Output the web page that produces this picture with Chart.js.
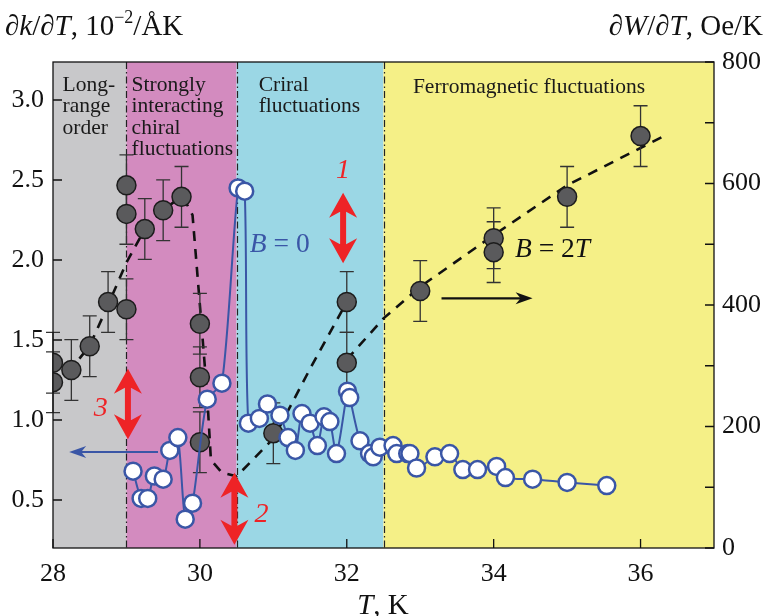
<!DOCTYPE html>
<html>
<head>
<meta charset="utf-8">
<script src="https://cdn.jsdelivr.net/npm/chart.js@4.4.1/dist/chart.umd.min.js"></script>
<style>
  html, body { margin: 0; padding: 0; background: #fff; }
</style>
</head>
<body>
<canvas id="myChart" width="766" height="616"></canvas>
<script>
// axis ticks
const xTicks = [28, 30, 32, 34, 36];
const leftTicks = [0.5, 1.0, 1.5, 2.0, 2.5, 3.0];
const rightTicks = [0, 200, 400, 600, 800];
const rightMinor = [100, 300, 500, 700];

// shaded temperature regions
const regionEdges = [28, 29, 30.5, 32.5, 37];
const regionColors = ['#c8c8ca', '#d38bbf', '#9bd7e5', '#f5f087'];
const regionNames = [
    ['Long-', 'range', 'order'],
    ['Strongly', 'interacting', 'chiral', 'fluctuations'],
    ['Criral', 'fluctuations'],
    ['Ferromagnetic fluctuations']
];

// B = 0, dk/dT (left axis)
const blueT = [29.09, 29.2, 29.29, 29.38, 29.5, 29.59, 29.7, 29.8, 29.9, 30.1, 30.3, 30.52, 30.61,
    30.66, 30.81, 30.92, 31.09, 31.2, 31.3, 31.39, 31.5, 31.6, 31.69, 31.77, 31.86, 32.01, 32.04,
    32.18, 32.31, 32.36, 32.45, 32.63, 32.68, 32.83, 32.86, 32.95, 33.2, 33.4, 33.58, 33.78,
    34.04, 34.16, 34.53, 35.0, 35.54];
const blueK = [0.68, 0.51, 0.51, 0.65, 0.63, 0.81, 0.89, 0.38, 0.48, 1.13, 1.23, 2.45, 2.43,
    0.98, 1.01, 1.1, 1.03, 0.89, 0.81, 1.04, 0.98, 0.84, 1.02, 0.99, 0.79, 1.18, 1.14,
    0.87, 0.79, 0.77, 0.83, 0.84, 0.79, 0.79, 0.79, 0.70, 0.77, 0.79, 0.69, 0.69,
    0.71, 0.64, 0.63, 0.61, 0.59];

// B = 2T, dW/dT (right axis)
const darkT = [28, 28, 28.25, 28.5, 28.75, 29, 29, 29, 29.25, 29.5, 29.75, 30, 30, 30, 31, 32, 32, 33, 34, 34, 35, 36];
const darkW = [305, 273, 293, 332, 405, 393, 550, 597, 525, 556, 578, 369, 281, 174, 189, 405, 305, 423, 510, 487, 578, 678];
const darkErr = [50, 50, 50, 50, 50, 50, 50, 50, 50, 50, 50, 50, 50, 50, 50, 50, 50, 50, 50, 50, 50, 50];

// dashed guide line (right axis), null breaks it in two
const guideT = [28, 28.25, 28.5, 28.75, 29, 29.25, 29.5, 29.76, 29.9, 30.0, 30.1, 30.15, 30.3, 30.5,
    31, 31.5, 32, 32, 32, 32.5, 33, 34, 35, 36.3];
const guideW = [272, 295, 333, 400, 470, 525, 556, 580, 548, 400, 250, 145, 124, 118,
    180, 295, 405, null, 310, 378, 430, 515, 597, 677];

// annotations
const redArrows = [
    { label: '1', x: 31.95, top: 2.42, bottom: 1.98, lx: 31.95, ly: 2.56 },
    { label: '2', x: 30.47, top: 0.67, bottom: 0.22, lx: 30.84, ly: 0.41 },
    { label: '3', x: 29.02, top: 1.32, bottom: 0.88, lx: 28.65, ly: 1.07 }
];

document.addEventListener('DOMContentLoaded', function () {
    const serif = '"Liberation Serif", "Times New Roman", serif';
    Chart.defaults.font.family = serif;
    Chart.defaults.color = '#111';

    function pts(xs, ys) {
        return xs.map((v, i) => ({ x: v, y: ys[i] }));
    }

    function richText(ctx, x, y, parts, align, size) {
        let w = 0;
        parts.forEach(p => {
            ctx.font = (p.it ? 'italic ' : '') + (p.sup ? size * 0.62 : size) + 'px ' + serif;
            p.w = ctx.measureText(p.t).width;
            w += p.w;
        });
        let cx = align === 'right' ? x - w : (align === 'center' ? x - w / 2 : x);
        ctx.textAlign = 'left';
        ctx.textBaseline = 'alphabetic';
        parts.forEach(p => {
            ctx.font = (p.it ? 'italic ' : '') + (p.sup ? size * 0.62 : size) + 'px ' + serif;
            ctx.fillText(p.t, cx, p.sup ? y - size * 0.42 : y);
            cx += p.w;
        });
    }

    function dblArrow(ctx, x, yTop, yBot) {
        const head = 25, hw = 14, sw = 3;
        ctx.fillStyle = '#ee2326';
        ctx.beginPath();
        ctx.moveTo(x, yTop);
        ctx.lineTo(x + hw, yTop + head);
        ctx.lineTo(x + sw, yTop + head - 6);
        ctx.lineTo(x + sw, yBot - head + 6);
        ctx.lineTo(x + hw, yBot - head);
        ctx.lineTo(x, yBot);
        ctx.lineTo(x - hw, yBot - head);
        ctx.lineTo(x - sw, yBot - head + 6);
        ctx.lineTo(x - sw, yTop + head - 6);
        ctx.lineTo(x - hw, yTop + head);
        ctx.closePath();
        ctx.fill();
    }

    function hArrow(ctx, x1, x2, y, color) {
        const dir = Math.sign(x2 - x1);
        ctx.strokeStyle = color;
        ctx.fillStyle = color;
        ctx.lineWidth = 2.2;
        ctx.beginPath();
        ctx.moveTo(x1, y);
        ctx.lineTo(x2 - dir * 8, y);
        ctx.stroke();
        ctx.beginPath();
        ctx.moveTo(x2, y);
        ctx.lineTo(x2 - dir * 17, y - 6);
        ctx.lineTo(x2 - dir * 12, y);
        ctx.lineTo(x2 - dir * 17, y + 6);
        ctx.closePath();
        ctx.fill();
    }

    const decor = {
        id: 'decor',
        beforeDatasetsDraw(chart) {
            const { ctx, chartArea: a, scales } = chart;
            const x = scales.x;
            ctx.save();
            for (let i = 0; i < regionColors.length; i++) {
                const x1 = x.getPixelForValue(regionEdges[i]);
                const x2 = x.getPixelForValue(regionEdges[i + 1]);
                ctx.fillStyle = regionColors[i];
                ctx.fillRect(x1, a.top, x2 - x1, a.bottom - a.top);
            }
            // dash-dot dividers
            ctx.strokeStyle = '#222';
            ctx.lineWidth = 1.2;
            ctx.setLineDash([7, 3, 1.5, 3]);
            for (let i = 1; i < regionEdges.length - 1; i++) {
                const px = Math.round(x.getPixelForValue(regionEdges[i])) + 0.5;
                ctx.beginPath();
                ctx.moveTo(px, a.top);
                ctx.lineTo(px, a.bottom);
                ctx.stroke();
            }
            ctx.setLineDash([]);
            // region names
            ctx.fillStyle = '#1a1a1a';
            ctx.textAlign = 'left';
            ctx.textBaseline = 'alphabetic';
            ctx.font = '21.5px ' + serif;
            const lx = [28.13, 29.07, 30.8, 32.9];
            regionNames.forEach((lines, i) => {
                lines.forEach((t, j) => {
                    ctx.fillText(t, x.getPixelForValue(lx[i]), a.top + (i === 3 ? 31 : 29) + j * 21.3);
                });
            });
            ctx.restore();
        },
        beforeDatasetDraw(chart, args) {
            if (args.index !== 1) return;
            const { ctx, scales } = chart;
            ctx.save();
            ctx.strokeStyle = '#333';
            ctx.lineWidth = 1.3;
            darkT.forEach((t, i) => {
                const px = scales.x.getPixelForValue(t);
                const y1 = scales.yR.getPixelForValue(darkW[i] + darkErr[i]);
                const y2 = scales.yR.getPixelForValue(darkW[i] - darkErr[i]);
                ctx.beginPath();
                ctx.moveTo(px, y1); ctx.lineTo(px, y2);
                ctx.moveTo(px - 7, y1); ctx.lineTo(px + 7, y1);
                ctx.moveTo(px - 7, y2); ctx.lineTo(px + 7, y2);
                ctx.stroke();
            });
            ctx.restore();
        },
        afterDatasetsDraw(chart) {
            const { ctx, chartArea: a, scales } = chart;
            const x = scales.x, yL = scales.yL, yR = scales.yR;
            ctx.save();
            // frame and inward ticks
            ctx.strokeStyle = '#111';
            ctx.lineWidth = 1.3;
            ctx.strokeRect(a.left, a.top, a.right - a.left, a.bottom - a.top);
            ctx.beginPath();
            leftTicks.forEach(v => {
                const py = yL.getPixelForValue(v);
                ctx.moveTo(a.left, py); ctx.lineTo(a.left + 9, py);
            });
            rightTicks.concat(rightMinor).forEach(v => {
                const py = yR.getPixelForValue(v);
                ctx.moveTo(a.right, py); ctx.lineTo(a.right - 9, py);
            });
            xTicks.forEach(v => {
                const px = x.getPixelForValue(v);
                ctx.moveTo(px, a.bottom); ctx.lineTo(px, a.bottom - 9);
            });
            ctx.stroke();

            // red double arrows with numbers
            redArrows.forEach(r => {
                dblArrow(ctx, x.getPixelForValue(r.x), yL.getPixelForValue(r.top), yL.getPixelForValue(r.bottom));
                ctx.fillStyle = '#ee2326';
                ctx.font = 'italic 28px ' + serif;
                ctx.textAlign = 'center';
                ctx.textBaseline = 'middle';
                ctx.fillText(r.label, x.getPixelForValue(r.lx), yL.getPixelForValue(r.ly));
            });

            // axis pointers
            hArrow(ctx, x.getPixelForValue(29.43), x.getPixelForValue(28.22), yL.getPixelForValue(0.8), '#3a56a6');
            hArrow(ctx, x.getPixelForValue(33.29), x.getPixelForValue(34.53), yR.getPixelForValue(411), '#111');

            // series labels
            ctx.fillStyle = '#3a56a6';
            richText(ctx, x.getPixelForValue(30.68), yL.getPixelForValue(2.05),
                [{ t: 'B', it: true }, { t: ' = 0', it: false }], 'left', 27.5);
            ctx.fillStyle = '#111';
            richText(ctx, x.getPixelForValue(34.29), yL.getPixelForValue(2.02),
                [{ t: 'B', it: true }, { t: ' = 2', it: false }, { t: 'T', it: true }], 'left', 27.5);
            ctx.restore();
        },
        afterDraw(chart) {
            const ctx = chart.ctx;
            ctx.save();
            ctx.fillStyle = '#111';
            richText(ctx, 5, 35, [
                { t: '\u2202' }, { t: 'k', it: true }, { t: '/\u2202' }, { t: 'T', it: true },
                { t: ', 10' }, { t: '\u22122', sup: true }, { t: '/\u00c5K' }
            ], 'left', 29);
            richText(ctx, 763, 35, [
                { t: '\u2202' }, { t: 'W', it: true }, { t: '/\u2202' }, { t: 'T', it: true },
                { t: ', Oe/K' }
            ], 'right', 29);
            richText(ctx, 383, 614, [{ t: 'T', it: true }, { t: ', K' }], 'center', 29);
            ctx.restore();
        }
    };

    const ctx = document.getElementById('myChart').getContext('2d');
    const myChart = new Chart(ctx, {
        type: 'scatter',
        data: {
            datasets: [{
                label: 'B = 0',
                data: pts(blueT, blueK),
                yAxisID: 'yL',
                showLine: true,
                tension: 0.25,
                borderColor: '#3a56a6',
                borderWidth: 2,
                pointRadius: 8.5,
                pointBorderWidth: 2.5,
                pointBackgroundColor: '#ffffff',
                pointBorderColor: '#3a56a6',
                clip: 0,
                order: 0
            }, {
                label: 'B = 2T',
                data: pts(darkT, darkW),
                yAxisID: 'yR',
                showLine: false,
                pointRadius: 9.5,
                pointBorderWidth: 1.5,
                pointBackgroundColor: '#5a5a5c',
                pointBorderColor: '#1c1c1c',
                clip: 0,
                order: 1
            }, {
                label: 'guide',
                data: pts(guideT, guideW),
                yAxisID: 'yR',
                showLine: true,
                spanGaps: false,
                borderColor: '#111',
                borderWidth: 2.6,
                borderDash: [10, 8],
                pointRadius: 0,
                tension: 0,
                clip: 0,
                order: 2
            }]
        },
        options: {
            responsive: false,
            animation: false,
            events: [],
            layout: { padding: { top: 62, left: 0, right: 0, bottom: 0 } },
            plugins: { legend: { display: false }, tooltip: { enabled: false } },
            scales: {
                x: {
                    type: 'linear',
                    min: 28,
                    max: 37,
                    grid: { display: false, drawTicks: false },
                    border: { display: false },
                    afterBuildTicks: s => { s.ticks = xTicks.map(v => ({ value: v })); },
                    afterFit: s => { s.height = 68; },
                    ticks: { font: { size: 26 }, color: '#111', padding: 11, maxRotation: 0 }
                },
                yL: {
                    type: 'linear',
                    position: 'left',
                    min: 0.2,
                    max: 3.2375,
                    grid: { display: false, drawTicks: false },
                    border: { display: false },
                    afterBuildTicks: s => { s.ticks = leftTicks.map(v => ({ value: v })); },
                    afterFit: s => { s.width = 53; },
                    ticks: { font: { size: 26 }, color: '#111', padding: 9, callback: v => v.toFixed(1) }
                },
                yR: {
                    type: 'linear',
                    position: 'right',
                    min: 0,
                    max: 800,
                    grid: { display: false, drawTicks: false },
                    border: { display: false },
                    afterBuildTicks: s => { s.ticks = rightTicks.map(v => ({ value: v })); },
                    afterFit: s => { s.width = 52; },
                    ticks: { font: { size: 26 }, color: '#111', padding: 8, callback: v => String(v) }
                }
            }
        },
        plugins: [decor]
    });
});
</script>
</body>
</html>
